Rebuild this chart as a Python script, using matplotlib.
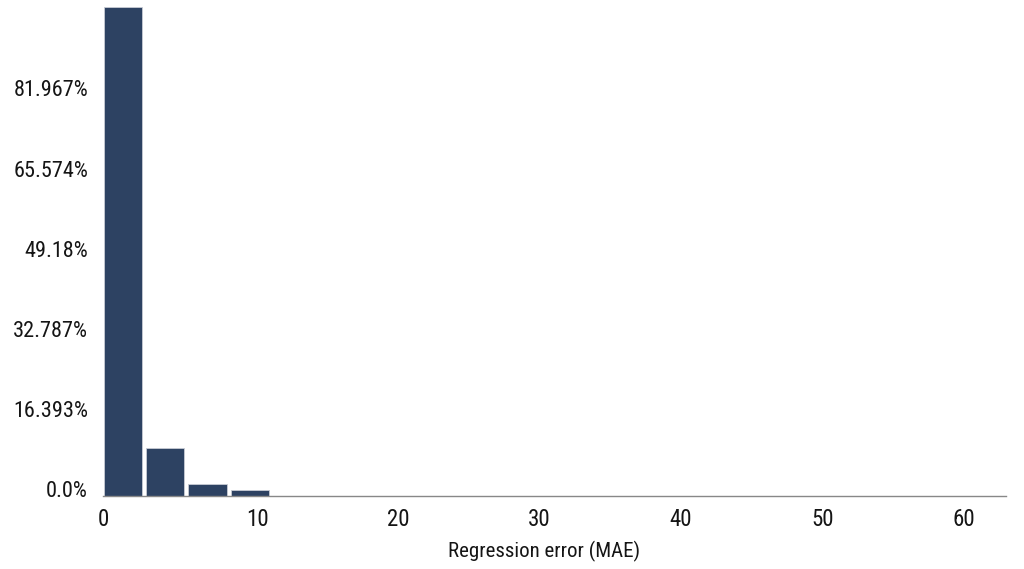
import matplotlib
matplotlib.use("Agg")
import matplotlib.pyplot as plt
from matplotlib.transforms import ScaledTranslation

# histogram of regression errors (bins of width 3)
bin_centers = [0.5, 3.5, 6.5, 9.5]
bar_pct = [100.0, 9.7, 2.3, 1.1]

y_ticks = [0.0, 16.393, 32.787, 49.18, 65.574, 81.967]
y_labels = ["0.0%", "16.393%", "32.787%", "49.18%", "65.574%", "81.967%"]
x_ticks = [0, 10, 20, 30, 40, 50, 60]
x_labels = ["0", "10", "20", "30", "40", "50", "60"]

plt.rcParams['font.family'] = ['Liberation Sans Narrow', 'Roboto Condensed', 'DejaVu Sans']

fig = plt.figure(figsize=(10.24, 5.69), dpi=100)
ax = fig.add_axes([0.1006, 0.1288, 0.8818, 0.8594])

ax.bar(bin_centers, bar_pct, width=2.72, color='#2d4262',
       edgecolor='#c8ccd4', linewidth=0.6)

xmin, xmax = -0.9, 63.0
ax.set_xlim(xmin, xmax)
ax.set_ylim(0, 100)

# the reference draws its "0" label at the left edge of the axis
ax.set_xticks([xmin] + x_ticks[1:])
ax.set_xticklabels(x_labels, fontsize=16.5, color='#151515')

# y labels sit slightly above their tick values in the reference
ax.set_yticks(y_ticks)
ax.set_yticklabels([])
ytrans = ax.get_yaxis_transform() + ScaledTranslation(-15 / 100, 4 / 100, fig.dpi_scale_trans)
for yv, lab in zip(y_ticks, y_labels):
    ax.text(0, yv, lab, transform=ytrans, ha='right', va='center',
            fontsize=16, color='#151515')

ax.tick_params(axis='both', length=0)
ax.tick_params(axis='x', pad=9)

for side in ['top', 'right', 'left']:
    ax.spines[side].set_visible(False)
ax.spines['bottom'].set_color('#888888')
ax.spines['bottom'].set_linewidth(1.0)

ax.set_xlabel("Regression error (MAE)", fontsize=15, color='#151515')
ax.xaxis.set_label_coords(0.488, -0.093)

fig.savefig("out.png", dpi=100)
